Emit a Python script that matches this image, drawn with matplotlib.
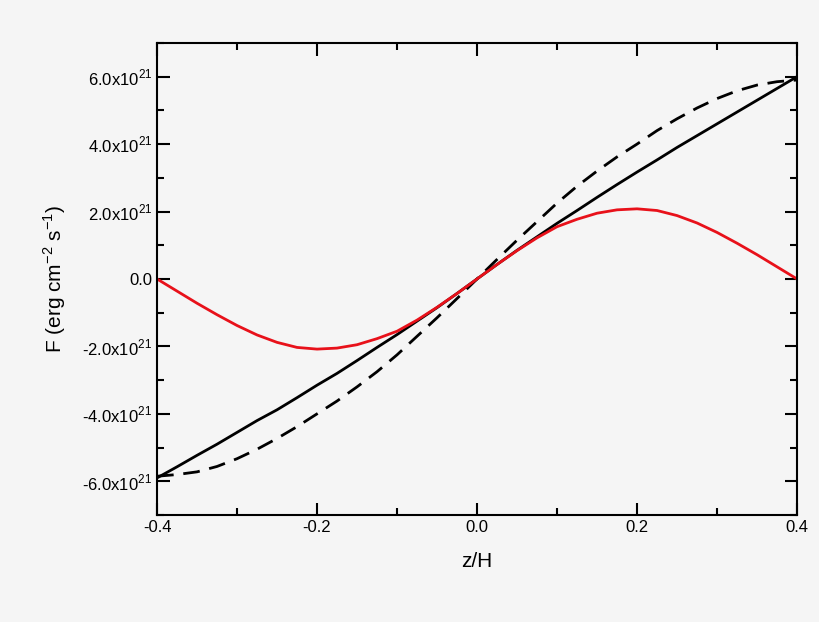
import matplotlib
matplotlib.use("Agg")
import matplotlib.pyplot as plt
from matplotlib.ticker import MultipleLocator

plt.rcParams['font.family'] = ['Liberation Sans', 'DejaVu Sans']
plt.rcParams['mathtext.fontset'] = 'custom'
plt.rcParams['mathtext.rm'] = 'Liberation Sans'

z = [-0.4, -0.375, -0.35, -0.325, -0.3, -0.275, -0.25, -0.225, -0.2, -0.175,
     -0.15, -0.125, -0.1, -0.075, -0.05, -0.025, 0.0,
     0.025, 0.05, 0.075, 0.1, 0.125, 0.15, 0.175, 0.2, 0.225,
     0.25, 0.275, 0.3, 0.325, 0.35, 0.375, 0.4]
solid = [-5.9, -5.57, -5.23, -4.9, -4.55, -4.2, -3.88, -3.52, -3.15, -2.8,
         -2.42, -2.03, -1.65, -1.25, -0.85, -0.43, 0.0,
         0.43, 0.85, 1.25, 1.65, 2.03, 2.42, 2.8, 3.17, 3.53,
         3.9, 4.25, 4.6, 4.95, 5.3, 5.65, 6.0]
dashed = [-5.85, -5.8, -5.72, -5.56, -5.33, -5.05, -4.73, -4.38, -4.0, -3.62,
          -3.2, -2.75, -2.25, -1.7, -1.15, -0.58, 0.0,
          0.58, 1.15, 1.7, 2.25, 2.75, 3.2, 3.62, 4.0, 4.4,
          4.75, 5.07, 5.35, 5.58, 5.75, 5.85, 5.9]
red = [0.0, -0.36, -0.72, -1.06, -1.38, -1.66, -1.88, -2.03, -2.08, -2.05,
       -1.95, -1.77, -1.55, -1.22, -0.84, -0.43, 0.0,
       0.43, 0.84, 1.22, 1.55, 1.77, 1.95, 2.05, 2.08, 2.03,
       1.88, 1.66, 1.38, 1.06, 0.72, 0.36, 0.0]
yticks = [-6, -4, -2, 0, 2, 4, 6]
ylabels = ['-6.0x10$^{21}$', '-4.0x10$^{21}$', '-2.0x10$^{21}$', '0.0',
           '2.0x10$^{21}$', '4.0x10$^{21}$', '6.0x10$^{21}$']
xticks = [-0.4, -0.2, 0.0, 0.2, 0.4]
xlabels = ['-0.4', '-0.2', '0.0', '0.2', '0.4']

fig = plt.figure(figsize=(8.2, 6.22), dpi=100, facecolor='#f5f5f5')
ax = fig.add_axes([0.1915, 0.172, 0.7805, 0.759], facecolor='#f5f5f5')
ax.plot(z, solid, color='black', lw=2)
ax.plot(z, dashed, color='black', lw=2, dashes=(6, 3.5))
ax.plot(z, red, color='#e8111a', lw=2)
ax.set_xlim(-0.4, 0.4)
ax.set_ylim(-7, 7)
ax.set_xticks(xticks, xlabels)
ax.set_yticks(yticks, ylabels)
ax.xaxis.set_minor_locator(MultipleLocator(0.1))
ax.yaxis.set_minor_locator(MultipleLocator(1))
ax.tick_params(which='both', direction='in', top=True, right=True, labelsize=12, width=1.5)
ax.tick_params(which='major', length=9)
ax.tick_params(which='minor', length=5)
for s in ax.spines.values():
    s.set_linewidth(1.5)
ax.set_xlabel('z/H', fontsize=15, labelpad=12)
ax.set_ylabel('F (erg cm$^{-2}$ s$^{-1}$)', fontsize=15, labelpad=10)
fig.savefig('out.png', dpi=100, facecolor='#f5f5f5')
